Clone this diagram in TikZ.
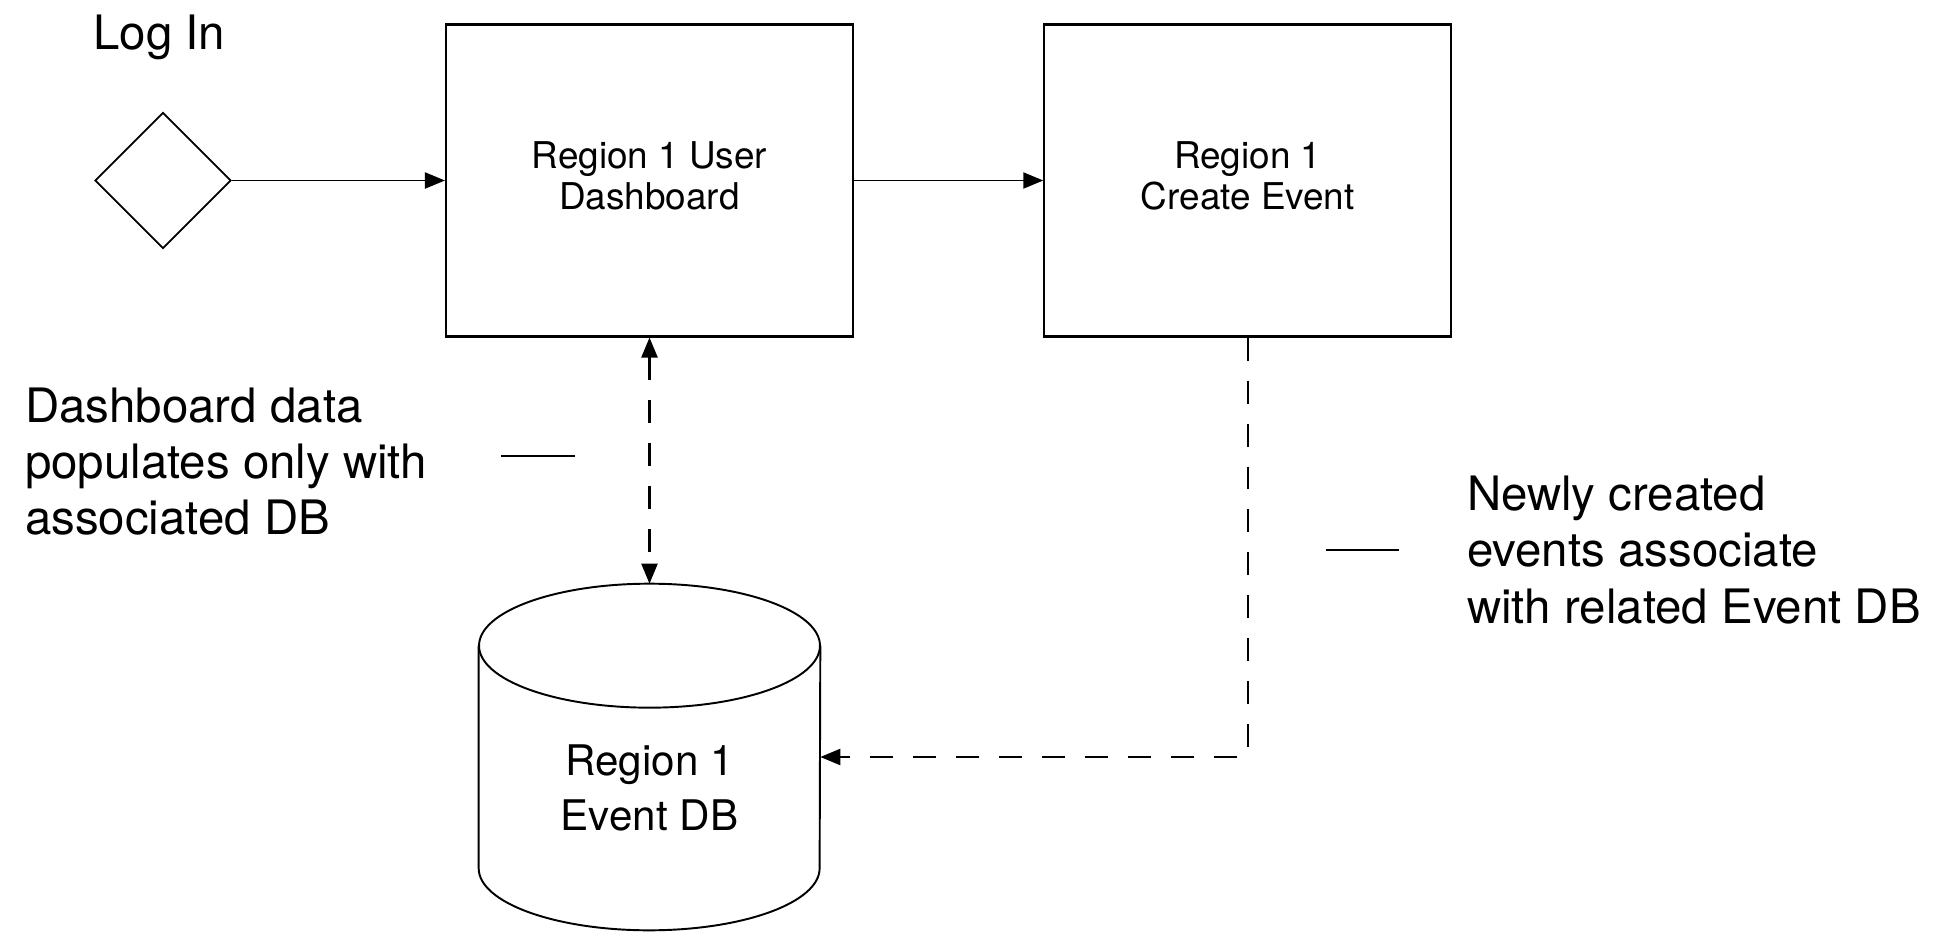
\documentclass[tikz,border=0pt]{standalone}
\usepackage{fontspec}
\setmainfont{TeX Gyre Heros}
\usetikzlibrary{shapes.geometric, arrows.meta}

\begin{document}
\begin{tikzpicture}[auto, x = 0.02cm, y = -0.02cm,
		box/.style = {draw, line width = 1.2pt, minimum width = 8.14cm, minimum height = 6.24cm, align = center, text depth = 0.2cm, font = \fontsize{21}{23.2}\selectfont},
		note/.style = {inner sep = 0, align = left, font = \fontsize{27}{32}\selectfont},
		flow/.style = {line width = 1.1pt, -{Triangle[length = 0.4cm, width = 0.32cm]}},
		link/.style = {line width = 1.3pt, dash pattern = on 0.46cm off 0.4cm}]
		\useasboundingbox (0, 0) rectangle (1939, 932);
		%%%%%%%%%%%%%
		\node [note, anchor = base west] (logintext) at (93, 49.5) {Log In};
		\node [draw, diamond, minimum width = 2.72cm, minimum height = 2.72cm, inner sep = 0, line width = 1pt] (login) at (163, 180.5) {};
		\node [box] (dash) at (649.5, 180.5) {Region 1 User\\Dashboard};
		\node [box] (create) at (1247.8, 180.5) {Region 1\\Create Event};
		\node [minimum width = 6.82cm, minimum height = 6.92cm, inner sep = 0] (db) at (649.5, 757) {};
		\node [font = \fontsize{24}{31}\selectfont, align = center] (dbtext) at (649.5, 788) {Region 1\\Event DB};
		\node [note, anchor = west] (dashnote) at (24.7, 461.5) {Dashboard data\\populates only with\\associated DB};
		\node [note, anchor = west] (eventnote) at (1466.7, 550) {Newly created\\events associate\\with related Event DB};
		%%%%%%%%%%%%%
		\draw [line width = 1.1pt] ([yshift = -1.24cm]db.north) ellipse [x radius = 3.41cm, y radius = 1.24cm];
		\draw [line width = 1.1pt] ([yshift = -1.24cm]db.north west) -- ([yshift = 1.24cm]db.south west)
			arc [start angle = 180, end angle = 360, x radius = 3.41cm, y radius = 1.24cm] -- ([yshift = -1.24cm]db.north east);
		%%%%%%%%%%%%%
		\draw [flow] (login) to (dash);
		\draw [flow] (dash) to (create);
		\draw [link, {Triangle[length = 0.4cm, width = 0.32cm]}-{Triangle[length = 0.4cm, width = 0.32cm]}] (dash.south) to (db.north);
		\draw [link, -{Triangle[length = 0.4cm, width = 0.32cm]}] (create.south) |- (db.east);
		%%%%%%%%%%%%%
		\coordinate (dl1) at (500.8, 456); \coordinate (dl2) at (575, 456);
		\coordinate (el1) at (1325.6, 550); \coordinate (el2) at (1398.6, 550);
		\draw [line width = 1pt] (dl1) to (dl2);
		\draw [line width = 1pt] (el1) to (el2);
\end{tikzpicture}
\end{document}
